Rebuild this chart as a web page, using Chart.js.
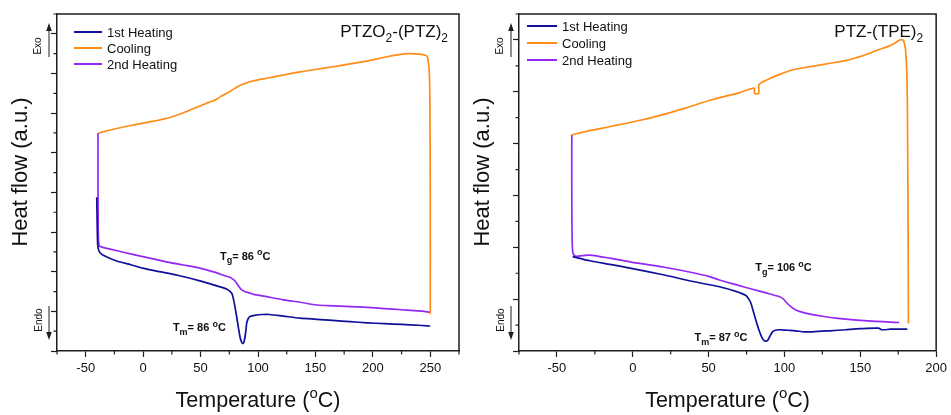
<!DOCTYPE html>
<html>
<head>
<meta charset="utf-8">
<script src="https://cdn.jsdelivr.net/npm/chart.js@4.4.1/dist/chart.umd.min.js"></script>
<style>
  html, body { margin: 0; padding: 0; background: #fff; width: 951px; height: 415px; overflow: hidden; }
  canvas { position: absolute; top: 0; }
  #left { left: 0; }
  #right { left: 462px; }
</style>
</head>
<body>
<canvas id="left" width="475" height="415"></canvas>
<canvas id="right" width="489" height="415"></canvas>
<script>
// ---- DSC traces, PTZO2-(PTZ)2 ----
const a_heat1T = [-40.4, -40.0, -39.6, -38.9, -37.5, -35.2, -23.2, -10, -0.3, 14.5, 30, 49.4, 62, 73, 77.0, 78.4, 80.0, 81.4, 83.0, 84.3, 85.5, 86.6, 87.7, 88.7, 89.6, 90.2, 91.5, 93.1, 97, 104, 110, 122, 136.6, 151, 165, 180, 195, 210, 225, 240, 250];
const a_heat1Y = [3.88, 3.2, 2.7, 2.56, 2.48, 2.42, 2.27, 2.17, 2.09, 2.00, 1.91, 1.77, 1.66, 1.56, 1.46, 1.34, 1.10, 0.87, 0.58, 0.36, 0.24, 0.19, 0.22, 0.36, 0.56, 0.71, 0.82, 0.87, 0.90, 0.92, 0.92, 0.88, 0.83, 0.80, 0.77, 0.74, 0.71, 0.69, 0.67, 0.65, 0.63];
const a_coolT = [250.0, 250.0, 249.6, 249.1, 248.5, 247.5, 246, 240, 232, 224, 210, 194.8, 180, 165.4, 150, 136.6, 120, 107.6, 100, 93, 86, 81.4, 74, 66.9, 64.0, 57, 49.4, 37.9, 23.3, 8, -8.8, -25, -38.7];
const a_coolY = [0.93, 4.0, 6.5, 7.05, 7.25, 7.41, 7.46, 7.49, 7.50, 7.48, 7.41, 7.31, 7.24, 7.17, 7.10, 7.04, 6.95, 6.88, 6.84, 6.79, 6.72, 6.65, 6.52, 6.41, 6.35, 6.27, 6.18, 6.04, 5.89, 5.79, 5.70, 5.60, 5.50];
const a_heat2T = [-39.3, -39.3, -39.2, -39.0, -38.6, -37.8, -20, -0.3, 20, 35, 49.4, 62, 72, 75.6, 79.5, 81.4, 83.5, 85.8, 88.5, 93.0, 96.1, 100, 107.6, 122.3, 136.6, 151.3, 165, 180, 195, 210, 225, 240, 250];
const a_heat2Y = [5.50, 4.5, 3.5, 2.9, 2.70, 2.64, 2.51, 2.38, 2.25, 2.17, 2.09, 1.99, 1.89, 1.86, 1.78, 1.71, 1.62, 1.54, 1.50, 1.46, 1.43, 1.41, 1.37, 1.29, 1.23, 1.16, 1.14, 1.12, 1.10, 1.07, 1.04, 1.01, 0.98];

// ---- DSC traces, PTZ-(TPE)2 ----
const b_heat1T = [-39.6, -28.2, -15, -1.9, 20, 39.6, 57.1, 68, 74.6, 76.5, 77.9, 79.5, 81.1, 82.8, 84.4, 85.5, 86.6, 87.7, 88.8, 90.3, 92.1, 94, 96.4, 102, 107.4, 113, 118.3, 130, 140.2, 150, 162.0, 164.2, 170, 181.0];
const b_heat1Y = [1.82, 1.74, 1.67, 1.60, 1.47, 1.34, 1.24, 1.15, 1.07, 1.00, 0.92, 0.76, 0.60, 0.44, 0.31, 0.24, 0.20, 0.19, 0.20, 0.28, 0.37, 0.40, 0.41, 0.40, 0.39, 0.37, 0.37, 0.39, 0.41, 0.43, 0.44, 0.41, 0.42, 0.42];
const b_coolT = [181.7, 181.5, 181.2, 181.0, 180.6, 180.0, 179.5, 178.4, 176.2, 173.0, 168, 162.0, 152, 140.2, 130, 118.3, 105.1, 96.4, 90, 83.3, 83.0, 80.3, 80.0, 70, 52.7, 35, 19.9, 5, -12.9, -30, -40.2];
const b_coolY = [0.53, 2.5, 4.0, 4.85, 5.42, 5.75, 5.87, 5.99, 6.00, 5.94, 5.87, 5.81, 5.70, 5.60, 5.55, 5.49, 5.42, 5.33, 5.25, 5.14, 4.97, 4.97, 5.07, 4.98, 4.85, 4.69, 4.56, 4.45, 4.34, 4.24, 4.17];
const b_heat2T = [-40.2, -40.2, -40.0, -39.5, -38.0, -33, -28.2, -15, -1.9, 20, 39.6, 50, 57.1, 68, 78.9, 88, 96.4, 99, 100.8, 104, 107.4, 113.9, 125, 135.3, 155, 175.6];
const b_heat2Y = [4.17, 3.0, 2.2, 1.9, 1.83, 1.84, 1.85, 1.79, 1.72, 1.62, 1.51, 1.44, 1.37, 1.28, 1.19, 1.12, 1.05, 1.01, 0.95, 0.86, 0.79, 0.73, 0.67, 0.63, 0.58, 0.55];

// ---- axis ticks ----
const a_xTicks = [-50, 0, 50, 100, 150, 200, 250];
const a_xMinor = [-75, -25, 25, 75, 125, 175, 225, 275];
const a_yTicks = [0, 1, 2, 3, 4, 5, 6, 7, 8];
const a_yMinor = [0.5, 1.5, 2.5, 3.5, 4.5, 5.5, 6.5, 7.5, 8.5];
const b_xTicks = [-50, 0, 50, 100, 150, 200];
const b_xMinor = [-75, -25, 25, 75, 125, 175];
const b_yTicks = [0, 1, 2, 3, 4, 5, 6];
const b_yMinor = [0.5, 1.5, 2.5, 3.5, 4.5, 5.5, 6.5];

const seriesNames = ['1st Heating', 'Cooling', '2nd Heating'];
const seriesColors = ['#10109a', '#ff8c14', '#9328f5'];

const FAMILY = '"Liberation Sans", Arial, Helvetica, sans-serif';
const INK = '#1e1e1e';

// text with sub/superscript runs: parts = [[text, ''|'sub'|'sup'], ...]
function rich(ctx, x, y, parts, size, weight, align, ratio) {
  const r = ratio || 0.7;
  const segs = parts.map(p => {
    const s = p[1] ? Math.round(size * r) : size;
    ctx.font = `${weight} ${s}px ${FAMILY}`;
    return { t: p[0], k: p[1], s: s, w: ctx.measureText(p[0]).width };
  });
  const total = segs.reduce((a, g) => a + g.w, 0);
  let cx = align === 'right' ? x - total : align === 'center' ? x - total / 2 : x;
  ctx.textAlign = 'left';
  ctx.textBaseline = 'alphabetic';
  segs.forEach(g => {
    ctx.font = `${weight} ${g.s}px ${FAMILY}`;
    const dy = g.k === 'sub' ? size * 0.32 : g.k === 'sup' ? -size * 0.42 : 0;
    ctx.fillText(g.t, cx, y + dy);
    cx += g.w;
  });
}

function arrow(ctx, x, yTail, yTip) {
  const dir = yTip < yTail ? -1 : 1;
  ctx.beginPath();
  ctx.moveTo(x, yTail);
  ctx.lineTo(x, yTip - dir * 6);
  ctx.lineWidth = 1;
  ctx.strokeStyle = INK;
  ctx.stroke();
  ctx.beginPath();
  ctx.moveTo(x, yTip);
  ctx.lineTo(x - 2.8, yTip - dir * 8);
  ctx.lineTo(x + 2.8, yTip - dir * 8);
  ctx.closePath();
  ctx.fillStyle = INK;
  ctx.fill();
}

function rotatedText(ctx, x, y, text, size) {
  ctx.save();
  ctx.translate(x, y);
  ctx.rotate(-Math.PI / 2);
  ctx.font = `${size}px ${FAMILY}`;
  ctx.textAlign = 'center';
  ctx.textBaseline = 'middle';
  ctx.fillStyle = '#111';
  ctx.fillText(text, 0, 0);
  ctx.restore();
}

function decor(cfg) {
  return {
    id: 'decor',
    afterDraw(chart) {
      const ctx = chart.ctx;
      const ca = chart.chartArea;
      const xs = chart.scales.x, ys = chart.scales.y;
      ctx.save();
      // closing frame lines
      ctx.strokeStyle = INK;
      ctx.lineWidth = 1.5;
      ctx.beginPath();
      ctx.moveTo(ca.left, ca.top);
      ctx.lineTo(ca.right, ca.top);
      ctx.lineTo(ca.right, ca.bottom);
      ctx.stroke();
      // minor ticks
      ctx.lineWidth = 1.2;
      ctx.beginPath();
      cfg.xMinor.forEach(v => {
        const px = xs.getPixelForValue(v);
        ctx.moveTo(px, ca.bottom);
        ctx.lineTo(px, ca.bottom + 3.5);
      });
      cfg.yMinor.forEach(v => {
        const py = ys.getPixelForValue(v);
        ctx.moveTo(ca.left, py);
        ctx.lineTo(ca.left - 3.5, py);
      });
      ctx.stroke();
      // legend
      seriesNames.forEach((n, i) => {
        const ly = ca.top + cfg.legendTop + i * cfg.legendGap;
        const lx = ca.left + cfg.legendLeft;
        ctx.strokeStyle = seriesColors[i];
        ctx.lineWidth = 2;
        ctx.beginPath();
        ctx.moveTo(lx, ly);
        ctx.lineTo(lx + cfg.legendLine, ly);
        ctx.stroke();
        ctx.fillStyle = '#111';
        ctx.font = `13px ${FAMILY}`;
        ctx.textAlign = 'left';
        ctx.textBaseline = 'alphabetic';
        ctx.fillText(n, lx + cfg.legendLine + 5, ly + 4.7);
      });
      // sample name
      ctx.fillStyle = '#111';
      rich(ctx, ca.right - cfg.titleInset, ca.top + 23, cfg.title, 17, 'normal', 'right');
      // transition labels
      cfg.notes.forEach(n => {
        rich(ctx, xs.getPixelForValue(n.x), ys.getPixelForValue(n.y), n.parts, 11, 'bold', 'left', 0.8);
      });
      // exo / endo markers
      const ax = ca.left - 8;
      arrow(ctx, ax, ca.top + 43, ca.top + 9);
      arrow(ctx, ax, ca.bottom - 45, ca.bottom - 11);
      rotatedText(ctx, ca.left - 18.5, ca.top + 32, 'Exo', 10);
      rotatedText(ctx, ca.left - 18, ca.bottom - 31, 'Endo', 10);
      // axis titles
      ctx.fillStyle = '#111';
      rich(ctx, (ca.left + ca.right) / 2, 407, [['Temperature (', ''], ['o', 'sup'], ['C)', '']], 21.5, 'normal', 'center');
      ctx.save();
      ctx.translate(ca.left - 30, 172);
      ctx.rotate(-Math.PI / 2);
      ctx.font = `22px ${FAMILY}`;
      ctx.textAlign = 'center';
      ctx.textBaseline = 'alphabetic';
      ctx.fillText('Heat flow (a.u.)', 0, 0);
      ctx.restore();
      ctx.restore();
    }
  };
}

function series(name, T, Y, color) {
  return {
    label: name,
    data: T.map((t, i) => ({ x: t, y: Y[i] })),
    borderColor: color,
    backgroundColor: color,
    borderWidth: 1.7,
    pointRadius: 0,
    showLine: true,
    tension: 0.25,
    fill: false
  };
}

function makeChart(id, cfg) {
  return new Chart(document.getElementById(id), {
    type: 'scatter',
    data: {
      datasets: [
        series(seriesNames[0], cfg.h1T, cfg.h1Y, seriesColors[0]),
        series(seriesNames[1], cfg.cT, cfg.cY, seriesColors[1]),
        series(seriesNames[2], cfg.h2T, cfg.h2Y, seriesColors[2])
      ]
    },
    options: {
      responsive: false,
      animation: false,
      events: [],
      layout: { padding: { top: 14, right: cfg.padRight, left: 0, bottom: 0 } },
      plugins: { legend: { display: false }, tooltip: { enabled: false } },
      scales: {
        x: {
          type: 'linear',
          min: -75,
          max: cfg.xMax,
          afterBuildTicks: s => { s.ticks = cfg.xTicks.map(v => ({ value: v })); },
          afterFit: s => { s.height = 64; },
          ticks: { color: '#111', font: { size: 13, family: FAMILY }, padding: 4, maxRotation: 0, autoSkip: false },
          grid: { drawOnChartArea: false, drawTicks: true, tickLength: 6, tickColor: INK, tickWidth: 1.2 },
          border: { display: true, color: INK, width: 1.5 }
        },
        y: {
          type: 'linear',
          min: 0,
          max: cfg.yMax,
          afterBuildTicks: s => { s.ticks = cfg.yTicks.map(v => ({ value: v })); },
          afterFit: s => { s.width = 57; },
          ticks: { display: false },
          grid: { drawOnChartArea: false, drawTicks: true, tickLength: 6, tickColor: INK, tickWidth: 1.2 },
          border: { display: true, color: INK, width: 1.5 }
        }
      }
    },
    plugins: [decor(cfg)]
  });
}

makeChart('left', {
  h1T: a_heat1T, h1Y: a_heat1Y, cT: a_coolT, cY: a_coolY, h2T: a_heat2T, h2Y: a_heat2Y,
  xMax: 275, yMax: 8.5, xTicks: a_xTicks, xMinor: a_xMinor, yTicks: a_yTicks, yMinor: a_yMinor,
  padRight: 16,
  legendLeft: 17, legendTop: 18, legendGap: 16, legendLine: 28,
  titleInset: 11,
  title: [['PTZO', ''], ['2', 'sub'], ['-(PTZ)', ''], ['2', 'sub']],
  notes: [
    { x: 66.9, y: 2.30, parts: [['T', ''], ['g', 'sub'], ['= 86 ', ''], ['o', 'sup'], ['C', '']] },
    { x: 25.9, y: 0.50, parts: [['T', ''], ['m', 'sub'], ['= 86 ', ''], ['o', 'sup'], ['C', '']] }
  ]
});

makeChart('right', {
  h1T: b_heat1T, h1Y: b_heat1Y, cT: b_coolT, cY: b_coolY, h2T: b_heat2T, h2Y: b_heat2Y,
  xMax: 200, yMax: 6.5, xTicks: b_xTicks, xMinor: b_xMinor, yTicks: b_yTicks, yMinor: b_yMinor,
  padRight: 13,
  legendLeft: 8, legendTop: 12, legendGap: 17, legendLine: 30,
  titleInset: 13,
  title: [['PTZ-(TPE)', ''], ['2', 'sub']],
  notes: [
    { x: 80.7, y: 1.54, parts: [['T', ''], ['g', 'sub'], ['= 106 ', ''], ['o', 'sup'], ['C', '']] },
    { x: 40.7, y: 0.19, parts: [['T', ''], ['m', 'sub'], ['= 87 ', ''], ['o', 'sup'], ['C', '']] }
  ]
});
</script>
</body>
</html>
